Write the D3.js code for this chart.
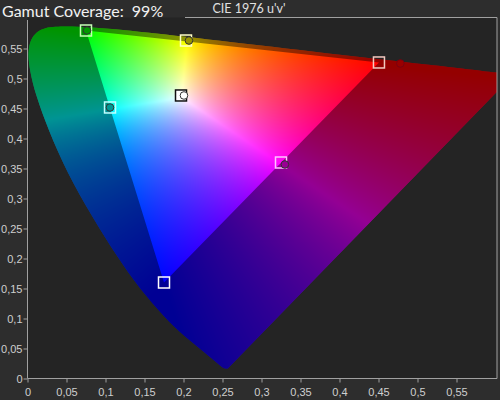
<!DOCTYPE html>
<html>
<head>
<meta charset="utf-8">
<script src="https://cdn.jsdelivr.net/npm/d3@7"></script>
<style>
  body { margin: 0; background: #2d2d2d; }
  svg { display: block; font-family: "Noto Sans", "Open Sans", sans-serif; }
</style>
</head>
<body>
<svg id="chart" width="500" height="400"></svg>
<script>
// spectral locus, CIE 1976 u'v'
const locusNm = [380, 420, 430, 440, 450, 460, 470, 475, 480, 485, 490, 495, 500, 505, 510, 515, 520, 525, 530, 540, 550, 560, 570, 580, 590, 600, 610, 620, 630, 640, 650, 700];
const locusU = [0.2568, 0.2522, 0.2461, 0.2347, 0.2161, 0.1877, 0.1441, 0.1147, 0.0828, 0.0521, 0.0282, 0.0119, 0.0035, 0.0014, 0.0046, 0.0123, 0.0231, 0.0360, 0.0501, 0.0792, 0.1127, 0.1531, 0.2026, 0.2623, 0.3315, 0.4035, 0.4692, 0.5203, 0.5565, 0.5830, 0.6005, 0.6234];
const locusV = [0.0166, 0.0169, 0.0226, 0.0350, 0.0549, 0.0871, 0.1510, 0.2044, 0.2708, 0.3427, 0.4117, 0.4698, 0.5131, 0.5432, 0.5638, 0.5770, 0.5837, 0.5861, 0.5868, 0.5856, 0.5821, 0.5766, 0.5694, 0.5604, 0.5501, 0.5393, 0.5296, 0.5219, 0.5165, 0.5125, 0.5099, 0.5065];

// targets and measured points
const pointNames = ["W", "R", "G", "B", "C", "M", "Y"];
const targetU = [0.1968, 0.4506, 0.0750, 0.1750, 0.1058, 0.3250, 0.2032];
const targetV = [0.4717, 0.5267, 0.5800, 0.1600, 0.4517, 0.3600, 0.5633];
const measuredU = [0.2006, 0.4780, 0.0763, null, 0.1058, 0.3300, 0.2070];
const measuredV = [0.4717, 0.5250, 0.5800, null, 0.4517, 0.3567, 0.5633];

const xTicks = [0, 0.05, 0.1, 0.15, 0.2, 0.25, 0.3, 0.35, 0.4, 0.45, 0.5, 0.55];
const yTicks = [0, 0.05, 0.1, 0.15, 0.2, 0.25, 0.3, 0.35, 0.4, 0.45, 0.5, 0.55];

const coverage = "99%";

const svg = d3.select("#chart");
const pLeft = 27.5, pRight = 497, pTop = 17.5, pBottom = 378.5;

const x = d3.scaleLinear().domain([0, 0.6]).range([pLeft, pLeft + 0.6 * 780]);
const y = d3.scaleLinear().domain([0, 0.6]).range([pBottom, pBottom - 0.6 * 600]);

svg.append("rect")
    .attr("x", pLeft).attr("y", pTop)
    .attr("width", pRight - pLeft).attr("height", pBottom - pTop)
    .attr("fill", "#242424");

// colour of a chromaticity, shown in the target gamut
function colourAt(u, v) {
    const d = 6 * u - 16 * v + 12;
    const cx = 9 * u / d, cy = 4 * v / d;
    const X = cx / cy, Y = 1, Z = (1 - cx - cy) / cy;
    let r = 2.0413690 * X - 0.5649464 * Y - 0.3446944 * Z;
    let g = -0.9692660 * X + 1.8760108 * Y + 0.0415560 * Z;
    let b = 0.0134474 * X - 0.1183897 * Y + 1.0154096 * Z;
    r = Math.max(0, r); g = Math.max(0, g); b = Math.max(0, b);
    const m = Math.max(r, g, b) || 1;
    const gam = 1 / 1.15;
    return [Math.pow(r / m, gam) * 255, Math.pow(g / m, gam) * 255, Math.pow(b / m, gam) * 255];
}

const W = Math.ceil(pRight - pLeft), H = Math.ceil(pBottom - pTop);
const canvas = document.createElement("canvas");
canvas.width = W; canvas.height = H;
const ctx = canvas.getContext("2d");
const img = ctx.createImageData(W, H);
for (let j = 0; j < H; j++) {
    for (let i = 0; i < W; i++) {
        const c = colourAt(x.invert(pLeft + i + 0.5), y.invert(pTop + j + 0.5));
        const k = (j * W + i) * 4;
        img.data[k] = c[0]; img.data[k + 1] = c[1]; img.data[k + 2] = c[2]; img.data[k + 3] = 255;
    }
}
ctx.putImageData(img, 0, 0);

const locusPts = locusU.map((u, i) => [x(u), y(locusV[i])]);
const line = d3.line().curve(d3.curveCatmullRom);
const defs = svg.append("defs");
defs.append("clipPath").attr("id", "plot")
    .append("rect").attr("x", pLeft).attr("y", pTop).attr("width", pRight - pLeft).attr("height", pBottom - pTop);
defs.append("clipPath").attr("id", "locus")
    .append("path").attr("d", line(locusPts) + "Z");

const g = svg.append("g").attr("clip-path", "url(#plot)");
g.append("g").attr("clip-path", "url(#locus)")
    .append("image")
    .attr("x", pLeft).attr("y", pTop)
    .attr("width", W).attr("height", H)
    .attr("preserveAspectRatio", "none")
    .attr("href", canvas.toDataURL());

// darken everything outside the target triangle (R, G, B)
const tri = [1, 2, 3].map(i => [x(targetU[i]), y(targetV[i])]);
g.append("path")
    .attr("d", line(locusPts) + "Z" + "M" + tri.join("L") + "Z")
    .attr("fill-rule", "evenodd")
    .attr("fill", "#000")
    .attr("opacity", 0.42);

// target squares
const squareStroke = { W: "#111", R: "#f2c8c0", G: "#c4ffb4", B: "#ffffff", C: "#c0ffff", M: "#ffc4ff", Y: "#ffffc4" };
const s = 11;
svg.selectAll(".target")
    .data(pointNames)
    .enter()
    .append("rect")
    .attr("class", "target")
    .attr("x", (d, i) => x(targetU[i]) - s / 2)
    .attr("y", (d, i) => y(targetV[i]) - s / 2)
    .attr("width", s).attr("height", s)
    .attr("fill", d => d == "W" ? "#fff" : "none")
    .attr("stroke", d => squareStroke[d])
    .attr("stroke-width", 1.5);

// measured circles
const measured = pointNames.map((d, i) => ({ name: d, u: measuredU[i], v: measuredV[i] }))
    .filter(d => d.u != null);
svg.selectAll(".measured")
    .data(measured)
    .enter()
    .append("circle")
    .attr("class", "measured")
    .attr("cx", d => x(d.u))
    .attr("cy", d => y(d.v))
    .attr("r", 3.8)
    .attr("fill", d => {
        if (d.name == "W") return "#ffffff";
        const c = colourAt(d.u, d.v);
        return d3.rgb(c[0] * 0.6, c[1] * 0.6, c[2] * 0.6);
    })
    .attr("stroke", d => d.name == "R" ? "#7a0010" : "#333")
    .attr("stroke-width", 1);

// axes
const fmt = d => d3.format("~g")(d).replace(".", ",");
const xAxis = svg.append("g")
    .attr("transform", "translate(0," + pBottom + ")")
    .call(d3.axisBottom(x).tickValues(xTicks).tickFormat(fmt).tickSize(4).tickSizeOuter(0));
const yAxis = svg.append("g")
    .attr("transform", "translate(" + pLeft + ",0)")
    .call(d3.axisLeft(y).tickValues(yTicks).tickFormat(fmt).tickSize(4).tickSizeOuter(0));
[xAxis, yAxis].forEach(a => {
    a.select(".domain").remove();
    a.selectAll("line").attr("stroke", "#a0a0a0");
    a.selectAll("text").attr("fill", "#cfcfcf").style("font-size", "11px");
});
xAxis.selectAll("text").attr("dy", "0.95em");
yAxis.selectAll("text").attr("x", -5);

// frame
svg.append("path")
    .attr("d", "M" + pLeft + "," + 20 + "V" + pBottom + "H" + pRight + "V" + pTop + "H" + 185)
    .attr("fill", "none")
    .attr("stroke", "#a0a0a0")
    .attr("stroke-width", 1);

svg.append("text")
    .attr("x", 2).attr("y", 17)
    .attr("fill", "#f2f2f2")
    .style("font-family", "Lato, sans-serif")
    .style("font-size", "16px")
    .style("white-space", "pre")
    .text("Gamut Coverage:  " + coverage);

svg.append("text")
    .attr("x", 249).attr("y", 12.5)
    .attr("text-anchor", "middle")
    .attr("fill", "#e0e0e0")
    .style("font-family", "Lato, sans-serif")
    .style("font-size", "12.5px")
    .text("CIE 1976 u'v'");
</script>
</body>
</html>
